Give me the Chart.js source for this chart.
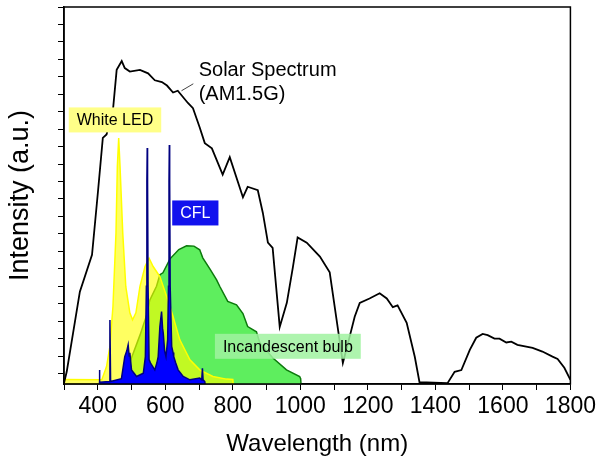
<!DOCTYPE html>
<html lang="en">
<head>
    <meta charset="UTF-8">
    <title>Light source spectra</title>
    <script src="https://cdn.jsdelivr.net/npm/chart.js@4.4.2/dist/chart.umd.min.js"></script>
    <style>
        html, body { margin: 0; padding: 0; background: #fff; }
        #wrap { width: 599px; height: 464px; }
    </style>
</head>
<body>
<div id="wrap"><canvas id="spectra"></canvas></div>
<script>
// --- data (wavelength in nm, intensity in a.u. = y tick steps) ---
const wlSolar  = [300,308,347,383,401,415,426,445,456,471,480,495,525,549,569,590,605,623,637,667,682,702,717,738,770,791,830,844,874,889,904,918,939,960,978,992,1019,1058,1087,1126,1146,1161,1176,1205,1235,1256,1274,1288,1315,1339,1353,1436,1457,1477,1502,1521,1540,1555,1575,1590,1610,1625,1643,1688,1717,1747,1762,1782,1800];
const valSolar = [-0.55,0.1,4.69,6.8,10.5,13.5,13.7,15.1,17.4,17.9,17.5,17.3,17.4,17.2,16.8,16.7,16.5,16.1,16.2,15.5,15.2,14.1,13.2,12.9,11.4,12.4,10.1,10.7,10.5,9.2,7.5,7.2,2.67,4.05,6.1,7.8,7.5,6.7,5.8,0.6,2.1,3.25,4.05,4.3,4.6,4.3,3.8,3.9,2.9,0.96,-0.5,-0.55,0.1,0.2,1.36,2.05,2.27,2.2,2.0,2.0,1.78,1.83,1.64,1.47,1.26,0.97,0.84,0.33,-0.36];

const wlLed  = [300,412,426,436,445,454,458,462,466,474,483,495,503,513,525,540,552,564,584,604,623,643,673,702,741,781,800,801];
const valLed = [-0.34,-0.36,0.4,1.55,3.84,8.06,11.86,13.49,11.86,8.06,4.99,3.48,3.08,3.48,4.99,6.13,6.61,6.13,5.56,4.41,3.27,1.93,0.79,0.21,-0.17,-0.32,-0.34,-0.6];

const wlCfl  = [403,404,405,406,434,436,438,470,480,486,490,493,495,500,515,535,541,544,545.5,546.5,547.5,549,552,556,569,575,579,584,589,592,594,598,602,607,609.5,611,612,613,614.5,619,623,625,631,638,653,673,702,708,710,712,717,718];
const valCfl = [-0.5,-0.5,0.2,-0.5,-0.46,3.06,-0.46,-0.3,0.97,1.3,1.64,1.0,1.19,0.21,-0.17,0.02,0.97,5,11,12.92,11,5,0.8,0.61,0.21,0.6,0.97,2.69,3.55,2.6,2.32,1.3,0.97,1.93,5,11,13.1,11,5,1.55,1.2,0.97,0.6,0.21,-0.17,-0.36,-0.26,-0.36,0.3,-0.36,-0.46,-0.6];

const wlBulb  = [460,480,500,525,545,554,574,584,593,614,640,663,685,702,711,732,752,762,785,811,830,844,870,880,918,959,998,1001,1002];
const valBulb = [-0.59,-0.2,0.9,2.2,3.36,4.2,5.0,5.66,5.77,6.57,7.1,7.32,7.3,7.09,6.63,6.0,5.37,4.97,4.13,3.94,3.44,2.69,2.39,1.76,0.9,0.21,-0.17,-0.3,-0.6];

const xTicks = [300,400,500,600,700,800,900,1000,1100,1200,1300,1400,1500,1600,1700,1800];
const xTickLabels = [400,600,800,1000,1200,1400,1600,1800];
const yTicks = [0,1,2,3,4,5,6,7,8,9,10,11,12,13,14,15,16,17,18,19,20,21];

const FONT = '"Liberation Sans", Arial, sans-serif';

const pts = (xs, ys) => xs.map((x, i) => ({ x: x, y: ys[i] }));

// frame around the plot + the text labels
const extras = {
    id: 'extras',
    afterDatasetsDraw(chart) {
        const { ctx, chartArea: a, scales: { x, y } } = chart;
        ctx.save();

        function box(text, wl, v, bg, fg) {
            ctx.font = '16px ' + FONT;
            const w = ctx.measureText(text).width + 16, h = 25;
            const cx = x.getPixelForValue(wl), cy = y.getPixelForValue(v);
            ctx.fillStyle = bg;
            ctx.fillRect(cx - w / 2, cy - h / 2, w, h);
            ctx.fillStyle = fg;
            ctx.textAlign = 'center';
            ctx.textBaseline = 'middle';
            ctx.fillText(text, cx, cy + 1);
        }
        box('White LED', 451, 14.53, '#ffff88', '#000');
        box('CFL', 689, 9.2, '#1111ee', '#fff');
        box('Incandescent bulb', 963, 1.56, 'rgba(160,242,160,0.85)', '#000');

        // solar spectrum note and its leader
        ctx.fillStyle = '#000';
        ctx.font = '20px ' + FONT;
        ctx.textAlign = 'left';
        ctx.textBaseline = 'middle';
        ctx.fillText('Solar Spectrum', x.getPixelForValue(699), y.getPixelForValue(17.35));
        ctx.fillText('(AM1.5G)', x.getPixelForValue(699), y.getPixelForValue(16.0));
        ctx.strokeStyle = '#444';
        ctx.lineWidth = 1;
        ctx.beginPath();
        ctx.moveTo(x.getPixelForValue(648), y.getPixelForValue(16.2));
        ctx.lineTo(x.getPixelForValue(683), y.getPixelForValue(16.6));
        ctx.stroke();

        ctx.strokeStyle = '#000';
        ctx.lineWidth = 1.5;
        ctx.strokeRect(a.left, a.top, a.right - a.left, a.bottom - a.top);
        ctx.restore();
    }
};

new Chart(document.getElementById('spectra'), {
    type: 'line',
    data: {
        datasets: [
            {
                label: 'Solar Spectrum (AM1.5G)',
                data: pts(wlSolar, valSolar),
                borderColor: '#000',
                borderWidth: 1.8,
                fill: false
            },
            {
                label: 'CFL',
                data: pts(wlCfl, valCfl),
                borderColor: '#000080',
                backgroundColor: '#0000ff',
                borderWidth: 1.5,
                fill: 'start'
            },
            {
                label: 'White LED',
                data: pts(wlLed, valLed),
                borderColor: '#ffff00',
                backgroundColor: 'rgba(255,255,0,0.62)',
                borderWidth: 1.5,
                fill: 'start'
            },
            {
                label: 'Incandescent bulb',
                data: pts(wlBulb, valBulb),
                borderColor: '#0d7a0d',
                backgroundColor: 'rgb(94,238,94)',
                borderWidth: 1.5,
                fill: 'start'
            }
        ]
    },
    options: {
        responsive: true,
        maintainAspectRatio: false,
        animation: false,
        layout: { padding: { top: 7, right: 28, left: 0, bottom: 0 } },
        elements: {
            point: { radius: 0 },
            line: { tension: 0 }
        },
        plugins: {
            legend: { display: false },
            tooltip: { enabled: false }
        },
        scales: {
            x: {
                type: 'linear',
                min: 300,
                max: 1800,
                afterBuildTicks: s => { s.ticks = xTicks.map(v => ({ value: v })); },
                afterFit: s => { s.height = 80; },
                ticks: {
                    autoSkip: false,
                    maxRotation: 0,
                    padding: 3,
                    color: '#000',
                    font: { family: FONT, size: 23 },
                    callback: v => xTickLabels.includes(v) ? String(v) : ''
                },
                grid: { drawOnChartArea: false, tickLength: 6, color: '#000' },
                border: { color: '#000', width: 1.5 },
                title: {
                    display: true,
                    text: 'Wavelength (nm)',
                    color: '#000',
                    font: { family: FONT, size: 24 },
                    padding: { top: 0, bottom: 5 }
                }
            },
            y: {
                min: -0.6,
                max: 21,
                afterBuildTicks: s => { s.ticks = yTicks.map(v => ({ value: v })); },
                afterFit: s => { s.width = 64; },
                ticks: { display: false },
                grid: { drawOnChartArea: false, tickLength: 6, color: '#000' },
                border: { color: '#000', width: 1.5 },
                title: {
                    display: true,
                    text: 'Intensity (a.u.)',
                    color: '#000',
                    font: { family: FONT, size: 27 },
                    padding: { top: 4, bottom: 0 }
                }
            }
        }
    },
    plugins: [extras]
});
</script>
</body>
</html>
